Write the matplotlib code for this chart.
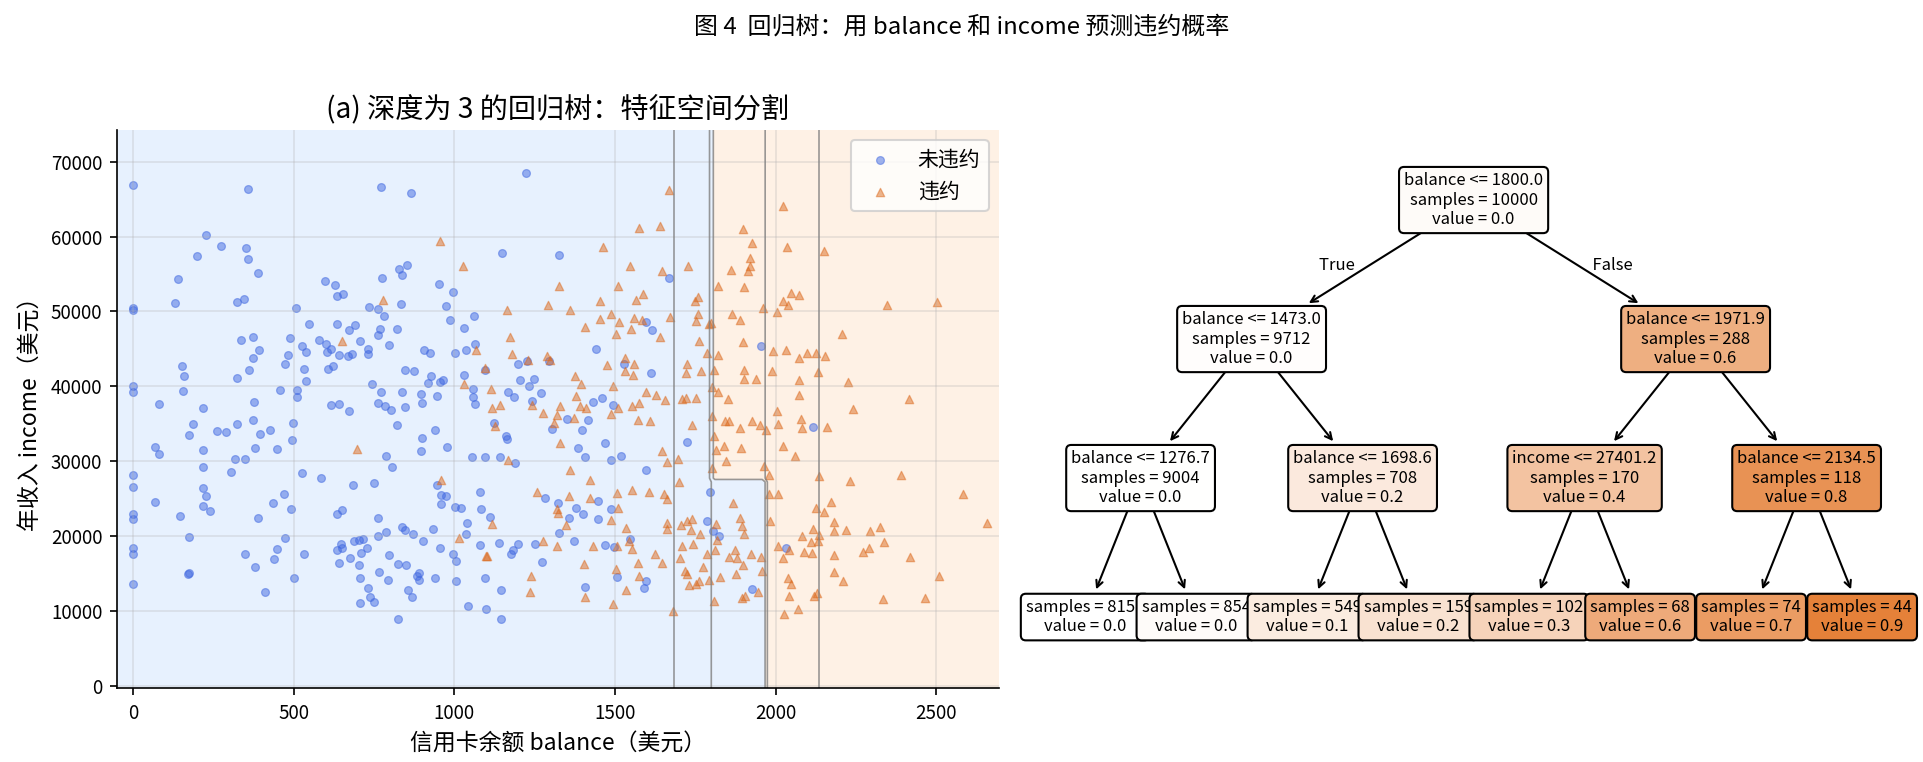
import numpy as np
import matplotlib
matplotlib.use("Agg")
import matplotlib.pyplot as plt

plt.rcParams["font.family"] = ["Noto Sans CJK SC", "DejaVu Sans"]
plt.rcParams["axes.unicode_minus"] = False

# ---- 样本点 (balance, income) ----
nodefault_pts = [
    (0, 66950), (357, 66330), (226, 60160), (273, 58730), (198, 57380), (353, 58460), (357, 56980),
    (389, 55100), (139, 54300), (598, 54030), (132, 51070), (0, 50500), (0, 50200), (325, 51300),
    (346, 51610), (507, 50400), (548, 48390),
    (1223, 68520), (772, 66600), (866, 65840), (1147, 57790), (1326, 57610), (854, 56170), (828, 55640),
    (838, 54930), (775, 54520), (628, 53490), (634, 52010), (655, 52280), (953, 53620), (995, 52640),
    (834, 50940), (735, 50540), (763, 50270), (782, 49420), (975, 50670), (985, 48890), (1060, 49330),
    (634, 48390), (692, 48170), (673, 47550), (769, 47640), (821, 47720), (1029, 47850),
    (1669, 54430), (1597, 48660), (1616, 47500),
    (335, 46200), (373, 46640), (489, 46420), (393, 44860), (375, 43730), (579, 46200), (600, 45610),
    (604, 44630), (616, 44940), (525, 45390), (539, 44580), (482, 44180), (473, 43010), (151, 42710),
    (158, 41320), (155, 39360), (360, 42180), (325, 41100), (531, 42310), (539, 40700), (607, 42310),
    (616, 37480), (0, 40070), (0, 39220), (456, 39490), (511, 39530), (510, 38550), (81, 37620),
    (217, 37080), (376, 37920), (375, 35500), (325, 34930), (188, 34930), (173, 33490), (262, 33980),
    (291, 33850), (395, 33620), (426, 34160), (497, 35060), (494, 32820), (68, 31880), (80, 30900),
    (219, 31440), (381, 31700), (448, 31650), (217, 29200), (316, 30270), (350, 30270), (304, 28520),
    (525, 28390), (584, 27720), (0, 28120), (0, 26510), (219, 26380), (226, 25300), (218, 23960),
    (240, 23380), (70, 24500), (470, 25570), (437, 24360), (491, 23650), (0, 22890), (0, 22310),
    (147, 22750), (389, 22480), (175, 19870), (473, 19730), (0, 18460), (0, 17600), (448, 18320),
    (439, 16980), (532, 17600), (350, 17650), (379, 15810),
    (707, 46070), (641, 44180), (670, 44040), (683, 44350), (730, 44940), (730, 44350), (761, 46880),
    (798, 45490), (621, 42750), (907, 44800), (923, 44400), (874, 42100), (848, 42180), (928, 41390),
    (919, 40500), (954, 40640), (964, 40800), (744, 40290), (773, 39200), (838, 39200), (895, 39000),
    (945, 38700), (641, 37650), (673, 36750), (763, 37800), (785, 37430), (804, 36900), (848, 37250),
    (898, 37800), (823, 34800), (939, 34160), (900, 33090), (897, 31430), (976, 31880), (788, 30670),
    (806, 29200), (684, 26820), (751, 27050), (947, 26820), (958, 25480), (973, 25340), (959, 24230),
    (634, 22890), (652, 23420), (763, 22440), (1001, 23920), (1022, 23690), (1039, 21810), (1036, 20340),
    (836, 21230), (845, 20870), (871, 20330), (788, 20600), (761, 20020), (933, 20910), (904, 19360),
    (688, 19360), (702, 19440), (716, 19660), (647, 18990), (636, 18140), (652, 18360), (728, 18460),
    (711, 17690), (676, 17110), (641, 16440), (702, 16130), (798, 17450), (826, 16210), (851, 16130),
    (954, 18460), (996, 17560), (1004, 16670),
    (1003, 44500), (1035, 44810), (1063, 45700), (1031, 41560), (1057, 39670), (1059, 38590),
    (1063, 37650), (1097, 42180), (1125, 35100), (1160, 33310), (1164, 32950), (1054, 30540),
    (1094, 30540), (1143, 30540), (1188, 29820), (1199, 42930), (1204, 40910), (1225, 43450),
    (1248, 41000), (1232, 40000), (1166, 39260), (1185, 38550), (1241, 38000), (1270, 39050),
    (1296, 43380), (1303, 34340), (1081, 25930), (1084, 23560), (1110, 22590), (1282, 25150),
    (1324, 24480), (1326, 20470), (1079, 18820), (1138, 19100), (1198, 18990), (1183, 18090),
    (1176, 17560), (1251, 18890), (1272, 16500),
    (1441, 44990), (1528, 43020), (1613, 41770), (1954, 45400), (1432, 37920), (1460, 38460),
    (1494, 37520), (1350, 35690), (1417, 35500), (1398, 34160), (1385, 31700), (1406, 30500),
    (1470, 32380), (1488, 30230), (1520, 30670), (1597, 28790), (1723, 32510), (2115, 34590),
    (1378, 23780), (1401, 22890), (1356, 22440), (1373, 19400), (1446, 22250), (1447, 24640),
    (1489, 23560), (1548, 19670), (1470, 18790), (1498, 18480), (1795, 25840), (1787, 21950),
    (1804, 20740), (1823, 20070), (2032, 18460),
    (0, 13540), (175, 15020), (172, 14950), (411, 12510), (502, 14390), (706, 14460), (730, 13120),
    (765, 15170), (793, 14080), (738, 11840), (751, 11170), (706, 11030), (857, 12820), (869, 11800),
    (824, 8890), (883, 14700), (891, 15060), (891, 14080), (940, 14350), (1004, 13960), (1095, 14460),
    (1044, 10630), (1098, 10320), (1144, 12820), (1144, 8930),
    (1406, 13170), (1505, 14480), (1596, 13960), (1589, 13020), (1927, 12910),
]

default_pts = [
    (956, 59360), (1026, 56130), (779, 51520), (1163, 50180), (1291, 50890), (1327, 53450),
    (1669, 66290), (2022, 64050), (1576, 61100), (1640, 61370), (1897, 61010), (1925, 59130),
    (2035, 58550), (1463, 58590), (1920, 57160), (1919, 56040), (1913, 55460), (1860, 55550),
    (1547, 56130), (1647, 55460), (1728, 56130), (1510, 53450), (1822, 53450), (1900, 53320),
    (1586, 52280), (1564, 51570), (1454, 51390), (2047, 52460), (2073, 52240), (2022, 51340),
    (2039, 50890), (1748, 51340), (1757, 51880), (1962, 50490), (2004, 49960), (1360, 50180),
    (1488, 49730), (1514, 48610), (1757, 49730), (1751, 48750), (1864, 49600), (1888, 48830),
    (1454, 48970), (1560, 49110), (1584, 48830), (1672, 49200), (1407, 47950), (1549, 47720),
    (1793, 48300), (1799, 48520),
    (650, 46070), (696, 31650), (960, 27500), (1013, 19700), (1100, 17400), (1173, 46650),
    (1179, 44300), (1066, 44830), (1097, 42390), (1029, 40290), (1113, 39620), (1116, 37080),
    (1141, 37540), (1126, 34650), (1242, 37540), (1275, 36470), (1230, 43490), (1288, 44120),
    (1299, 43490), (1318, 36200), (1330, 37320), (1309, 35100), (1330, 32420), (1166, 30170),
    (1256, 25930), (1318, 23560), (1323, 23020), (1116, 21680), (1277, 19360), (1320, 18690),
    (1101, 17360),
    (1504, 46960), (1641, 46640), (1760, 46070), (1787, 44500), (1822, 44180), (1897, 45970),
    (1991, 44740), (2032, 44860), (2074, 43730), (1530, 43730), (1560, 43020), (1476, 42840),
    (1531, 42040), (1556, 41460), (1374, 41370), (1395, 40290), (1494, 40110), (1723, 43050),
    (1720, 41810), (1768, 42040), (1807, 42180), (1903, 42240), (1900, 41040), (1938, 41040),
    (1988, 42040), (2073, 40800), (2072, 38880), (1803, 39940), (1822, 39260), (1853, 38280),
    (1379, 38680), (1391, 37430), (1410, 37080), (1373, 35790), (1488, 36330), (1553, 37430),
    (1576, 37790), (1598, 39200), (1628, 38830), (1657, 38210), (1508, 37080), (1572, 35560),
    (1609, 35430), (1707, 38300), (1720, 38390), (1751, 38390), (1741, 34890), (1803, 36010),
    (1842, 35430), (1855, 35430), (1888, 34430), (1926, 35430), (1951, 34890), (1970, 34160),
    (1891, 31750), (1838, 31980), (1813, 31520), (1845, 30050), (1807, 33310), (2005, 36680),
    (2008, 34970), (2079, 35690), (2082, 34430), (2022, 31980), (2061, 30720), (1647, 31380),
    (1663, 29860), (1697, 30310), (1698, 27260), (1360, 28830), (1423, 27480), (1801, 29060),
    (1963, 29420), (1978, 28170), (1980, 25570), (2007, 25660), (2082, 20010), (2006, 18690),
    (2043, 18090), (2087, 17920), (2024, 17110), (1981, 21980), (1866, 24460), (1888, 22450),
    (1895, 21320), (1900, 20340), (1954, 17200), (1923, 17650), (1873, 18090), (1881, 17020),
    (1855, 17200), (1813, 21680), (1816, 19440), (1811, 18090), (1787, 17650), (1766, 20340),
    (1744, 18890), (1741, 22250), (1724, 21980), (1704, 21540), (1735, 20770), (1709, 18690),
    (1702, 17110), (1663, 21000), (1661, 21810), (1653, 25570), (1663, 24940), (1605, 25930),
    (1553, 26150), (1505, 25790), (1423, 25130), (1357, 25350), (1347, 21540), (1488, 22120),
    (1534, 21100), (1509, 23780), (1430, 18690), (1506, 18690), (1545, 19360), (1553, 18230),
    (1626, 17560), (1647, 16440), (1572, 16440), (1402, 16210),
    (2150, 58070), (2347, 50920), (2503, 51300), (2206, 47000), (2098, 44400), (2127, 44400),
    (2154, 44060), (2131, 41880), (2225, 40630), (2416, 38360), (2240, 37000), (2159, 34590),
    (2136, 27970), (2231, 27340), (2391, 28120), (2582, 25560), (2657, 21690), (2173, 24490),
    (2126, 23770), (2150, 23280), (2183, 21930), (2183, 20630), (2218, 20820), (2115, 20970),
    (2136, 20140), (2110, 19270), (2131, 19370), (2293, 20630), (2325, 21160), (2337, 19180),
    (2291, 18450), (2272, 17830), (2113, 17680), (2181, 17440), (2419, 17250), (2181, 15170),
    (2209, 14060), (2507, 14680), (2118, 12030), (2129, 12370), (2334, 11640), (2465, 11790),
    (1239, 14720), (1235, 12480),
    (1502, 15600), (1574, 14700), (1533, 12860), (1406, 11920), (1494, 10900), (1682, 10030),
    (1719, 15380), (1724, 14940), (1773, 15830), (1731, 13490), (1752, 13580), (1760, 14030),
    (1792, 14160), (1827, 14480), (1807, 11380), (1877, 14940), (1898, 16140), (1959, 15380),
    (1896, 11790), (1904, 11960), (1946, 12500), (2037, 14350), (2049, 13580), (2040, 12010),
    (2068, 10220), (2027, 9550),
]

# ---- 深度 3 回归树（按层序编号：节点 i 的子节点为 2i+1, 2i+2）----
split_feature = ["balance", "balance", "balance", "balance", "balance", "income", "balance"]
split_threshold = [1800.0, 1473.0, 1971.9, 1276.7, 1698.6, 27401.2, 2134.5]
leaf_samples = [8150, 854, 549, 159, 102, 68, 74, 44]
leaf_value = [0.003, 0.03, 0.14, 0.21, 0.31, 0.6, 0.7, 0.89]

n_internal = len(split_threshold)
n_nodes = n_internal + len(leaf_samples)
node_samples = np.zeros(n_nodes)
node_value = np.zeros(n_nodes)
node_samples[n_internal:] = leaf_samples
node_value[n_internal:] = leaf_value
for i in range(n_internal - 1, -1, -1):
    l, r = 2 * i + 1, 2 * i + 2
    node_samples[i] = node_samples[l] + node_samples[r]
    node_value[i] = (node_samples[l] * node_value[l] + node_samples[r] * node_value[r]) / node_samples[i]


def predict(bal, inc):
    feat_idx = np.array([0 if f == "balance" else 1 for f in split_feature])
    thr = np.asarray(split_threshold)
    node = np.zeros(bal.shape, dtype=int)
    while (node < n_internal).any():
        inner = node < n_internal
        k = np.where(inner, node, 0)
        x = np.where(feat_idx[k] == 0, bal, inc)
        nxt = np.where(x <= thr[k], 2 * node + 1, 2 * node + 2)
        node = np.where(inner, nxt, node)
    return np.asarray(leaf_value)[node - n_internal]


fig = plt.figure(figsize=(12.82, 5.08), dpi=150)
fig.suptitle("图 4  回归树：用 balance 和 income 预测违约概率", fontsize=11.5)

# ---- (a) 特征空间分割 ----
ax = fig.add_axes([0.0608, 0.097, 0.4587, 0.733])
xlim, ylim = (-50, 2695), (-300, 74300)
xx, yy = np.meshgrid(np.linspace(*xlim, 150), np.linspace(*ylim, 150))
zz = predict(xx, yy)
ax.contourf(xx, yy, zz, levels=[0, 0.5, 1], colors=["#e7f1fe", "#fef1e5"])
ax.contour(xx, yy, zz, levels=[0.15, 0.25, 0.5, 0.65, 0.8], colors="gray", linewidths=0.8, alpha=0.8)

nd = np.array(nodefault_pts)
df = np.array(default_pts)
ax.scatter(nd[:, 0], nd[:, 1], s=14, c="royalblue", alpha=0.5, linewidths=0.6, label="未违约")
ax.scatter(df[:, 0], df[:, 1], s=16, marker="^", c="#dc6b1f", alpha=0.5, linewidths=0.6, label="违约")
ax.set_xlim(*xlim); ax.set_ylim(*ylim)
ax.set_xlabel("信用卡余额 balance（美元）", fontsize=11)
ax.set_ylabel("年收入 income（美元）", fontsize=11)
ax.set_title("(a) 深度为 3 的回归树：特征空间分割", fontsize=13.5)
ax.tick_params(labelsize=9)
ax.grid(True, alpha=0.3)
ax.spines["top"].set_visible(False); ax.spines["right"].set_visible(False)
ax.legend(loc="upper right", fontsize=10)

# ---- 右：树结构（仿 sklearn plot_tree）----
tax = fig.add_axes([0.5354, 0.099, 0.4618, 0.7297])
tax.set_axis_off()

xpos = np.zeros(n_nodes)
xpos[n_internal:] = np.arange(len(leaf_samples))
for i in range(n_internal - 1, -1, -1):
    xpos[i] = (xpos[2 * i + 1] + xpos[2 * i + 2]) / 2
depth = [int(np.log2(i + 1)) for i in range(n_nodes)]
max_x, max_y = len(leaf_samples), max(depth) + 1
vmin, vmax = node_value.min(), node_value.max()
base = np.array([229, 129, 57])


def node_xy(i):
    return ((xpos[i] + 0.5) / max_x, (max_y - depth[i] - 0.5) / max_y)


def node_fill(i):
    a = (node_value[i] - vmin) / (vmax - vmin)
    return tuple((a * base + (1 - a) * 255) / 255)


def node_label(i):
    txt = f"samples = {int(node_samples[i])}\nvalue = {node_value[i]:.1f}"
    if i < n_internal:
        txt = f"{split_feature[i]} <= {split_threshold[i]:.1f}\n" + txt
    return txt


def draw(i, parent=None):
    kw = dict(xycoords="axes fraction", textcoords="axes fraction", ha="center", va="center",
              fontsize=8, zorder=100 - 10 * depth[i],
              bbox=dict(boxstyle="round", fc=node_fill(i), ec="black"))
    if parent is None:
        tax.annotate(node_label(i), node_xy(i), **kw)
    else:
        tax.annotate(node_label(i), node_xy(parent), node_xy(i),
                     arrowprops=dict(arrowstyle="<-", edgecolor="black"), **kw)
        if parent == 0:
            px, py = node_xy(parent); cx, cy = node_xy(i)
            left = i == 1
            tax.text((px + cx) / 2, (py + cy) / 2, "True  " if left else "  False",
                     ha="right" if left else "left", fontsize=8, transform=tax.transAxes)
    if i < n_internal:
        draw(2 * i + 1, i)
        draw(2 * i + 2, i)


draw(0)

fig.savefig("out.png", dpi=150)
